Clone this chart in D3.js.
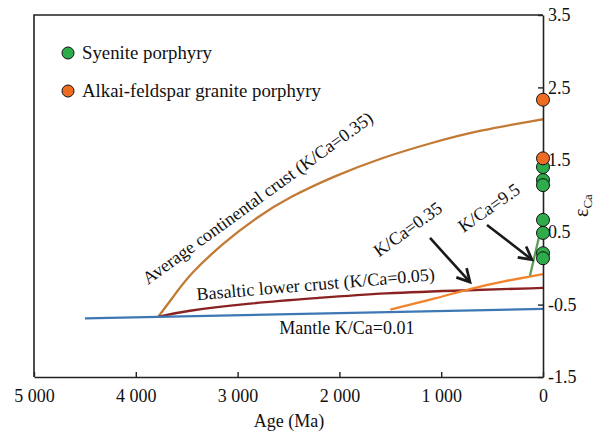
<!DOCTYPE html>
<html>
<head>
<meta charset="utf-8">
<script src="https://cdn.jsdelivr.net/npm/d3@7"></script>
<style>
  body { margin: 0; background: #fff; }
  svg text { font-family: "Liberation Serif", Tinos, "Times New Roman", serif !important; fill: #111; }
</style>
</head>
<body>
<svg id="chart" width="606" height="434"></svg>
<script>
// ---- data (age in Ma, epsilon Ca) ----
var mantleAge = [4500, 0];
var mantleEps = [-0.69, -0.56];

var basaltAge = [3780, 3536, 2878, 2220, 1572, 717, 0];
var basaltEps = [-0.67, -0.59, -0.48, -0.41, -0.34, -0.30, -0.27];

var crustAge = [3780, 3600, 3468, 3143, 2809, 2485, 2043, 1601, 1110, 619, 0];
var crustEps = [-0.67, -0.33, -0.08, 0.35, 0.71, 0.99, 1.28, 1.52, 1.73, 1.91, 2.06];

var kca035Age = [1500, 1041, 717, 393, 0];
var kca035Eps = [-0.57, -0.41, -0.28, -0.18, -0.08];

var kca95Age = [128, 0];
var kca95Eps = [-0.10, 0.67];

var syeniteEps = [1.40, 1.22, 1.15, 0.67, 0.49, 0.21, 0.14];
var graniteEps = [2.33, 1.52];

var xTicks = [5000, 4000, 3000, 2000, 1000, 0];
var yTicks = [3.5, 2.5, 1.5, 0.5, -0.5, -1.5];

var svg = d3.select("#chart");
var margin = {top: 15, right: 63, bottom: 57, left: 34};
var width = 606 - margin.left - margin.right,
    height = 434 - margin.top - margin.bottom;
var fs = 18;

var x = d3.scaleLinear().domain([5000, 0]).range([margin.left, margin.left + width]);
var y = d3.scaleLinear().domain([-1.5, 3.5]).range([margin.top + height, margin.top]);

function zip(a, b){ return a.map(function(d, i){ return [d, b[i]]; }); }

var line = d3.line()
  .x(function(d){ return x(d[0]); })
  .y(function(d){ return y(d[1]); })
  .curve(d3.curveBasis);

var series = [
  {pts: zip(crustAge, crustEps), color: "#c27a35"},
  {pts: zip(basaltAge, basaltEps), color: "#8b2222"},
  {pts: zip(mantleAge, mantleEps), color: "#3d78b5"},
  {pts: zip(kca035Age, kca035Eps), color: "#f0832c"},
  {pts: zip(kca95Age, kca95Eps), color: "#5a9e55"}
];

svg.append("g").selectAll("path")
  .data(series)
  .enter().append("path")
    .attr("d", function(d){ return line(d.pts); })
    .attr("fill", "none")
    .attr("stroke", function(d){ return d.color; })
    .attr("stroke-width", 2.3);

// frame: top and left lines
svg.append("path")
  .attr("d", "M" + x(0) + "," + y(3.5) + "H" + x(5000) + "V" + y(-1.5))
  .attr("fill", "none").attr("stroke", "#222").attr("stroke-width", 1.6);

// bottom axis
var xAxis = svg.append("g")
  .attr("transform", "translate(0," + y(-1.5) + ")")
  .call(d3.axisBottom(x).tickValues(xTicks).tickSizeInner(-5).tickSizeOuter(0)
    .tickFormat(function(d){ return d >= 1000 ? Math.floor(d/1000) + " 000" : d; }));
xAxis.attr("font-family", null);
xAxis.select(".domain").attr("stroke", "#222").attr("stroke-width", 1.6);
xAxis.selectAll(".tick line").attr("stroke", "#222").attr("stroke-width", 1.4);
xAxis.selectAll(".tick text").attr("y", 12).attr("font-size", fs).attr("fill", "#111");

// right axis
var yAxis = svg.append("g")
  .attr("transform", "translate(" + x(0) + ",0)")
  .call(d3.axisRight(y).tickValues(yTicks).tickSizeInner(-5).tickSizeOuter(0)
    .tickFormat(function(d){ return d3.format(".1f")(d).replace("\u2212", "-"); }));
yAxis.attr("font-family", null);
yAxis.select(".domain").attr("stroke", "#222").attr("stroke-width", 1.6);
yAxis.selectAll(".tick line").attr("stroke", "#222").attr("stroke-width", 1.4);
yAxis.selectAll(".tick text").attr("x", 5).attr("font-size", fs).attr("fill", "#111");

// axis titles
svg.append("text")
  .attr("x", 289).attr("y", 427)
  .attr("text-anchor", "middle").attr("font-size", fs)
  .text("Age (Ma)");

var yl = svg.append("text")
  .attr("transform", "translate(588,217) rotate(-90)")
  .attr("font-size", 20);
yl.append("tspan").text("\u03b5");
yl.append("tspan").attr("dy", 4).attr("font-size", 13).text("Ca");

// arrows
var defs = svg.append("defs");
defs.append("marker")
  .attr("id", "head").attr("viewBox", "0 0 10 10")
  .attr("refX", 8).attr("refY", 5)
  .attr("markerWidth", 7).attr("markerHeight", 7)
  .attr("orient", "auto")
  .append("path").attr("d", "M1,1.2 L8,5 L1,8.8").attr("fill", "none")
    .attr("stroke", "#1a1a1a").attr("stroke-width", 1.5);

var arrows = [
  {from: [1110, 0.42], to: [717, -0.19]},
  {from: [550, 0.60], to: [108, 0.12]}
];
svg.append("g").selectAll("line")
  .data(arrows)
  .enter().append("line")
    .attr("x1", function(d){ return x(d.from[0]); })
    .attr("y1", function(d){ return y(d.from[1]); })
    .attr("x2", function(d){ return x(d.to[0]); })
    .attr("y2", function(d){ return y(d.to[1]); })
    .attr("stroke", "#1a1a1a").attr("stroke-width", 2.6)
    .attr("marker-end", "url(#head)");

// curve labels
var labels = [
  {t: "Average continental crust (K/Ca=0.35)", age: 3880, eps: -0.23, rot: -36},
  {t: "Basaltic lower crust (K/Ca=0.05)", age: 3399, eps: -0.44, rot: -4.8},
  {t: "Mantle K/Ca=0.01", age: 2590, eps: -0.91, rot: 0},
  {t: "K/Ca=0.35", age: 1610, eps: 0.15, rot: -36},
  {t: "K/Ca=9.5", age: 780, eps: 0.49, rot: -35}
];
svg.append("g").selectAll("text")
  .data(labels)
  .enter().append("text")
    .attr("transform", function(d){ return "translate(" + x(d.age) + "," + y(d.eps) + ") rotate(" + d.rot + ")"; })
    .attr("font-size", fs)
    .text(function(d){ return d.t; });

// data points at age 0
var pts = syeniteEps.map(function(e){ return {eps: e, c: "#2eab4a"}; })
  .concat(graniteEps.map(function(e){ return {eps: e, c: "#ee6c22"}; }));
svg.append("g").selectAll("circle")
  .data(pts)
  .enter().append("circle")
    .attr("cx", x(0)).attr("cy", function(d){ return y(d.eps); })
    .attr("r", 6.5)
    .attr("fill", function(d){ return d.c; })
    .attr("stroke", "#111").attr("stroke-width", 1);

// legend
var legend = svg.append("g").selectAll("g")
  .data([{t: "Syenite porphyry", c: "#2eab4a"}, {t: "Alkai-feldspar granite porphyry", c: "#ee6c22"}])
  .enter().append("g")
    .attr("transform", function(d, i){ return "translate(68," + (53 + i * 38) + ")"; });
legend.append("circle").attr("r", 6).attr("fill", function(d){ return d.c; })
  .attr("stroke", "#111").attr("stroke-width", 1);
legend.append("text").attr("x", 14).attr("y", 6).attr("font-size", 18.8)
  .text(function(d){ return d.t; });
</script>
</body>
</html>
